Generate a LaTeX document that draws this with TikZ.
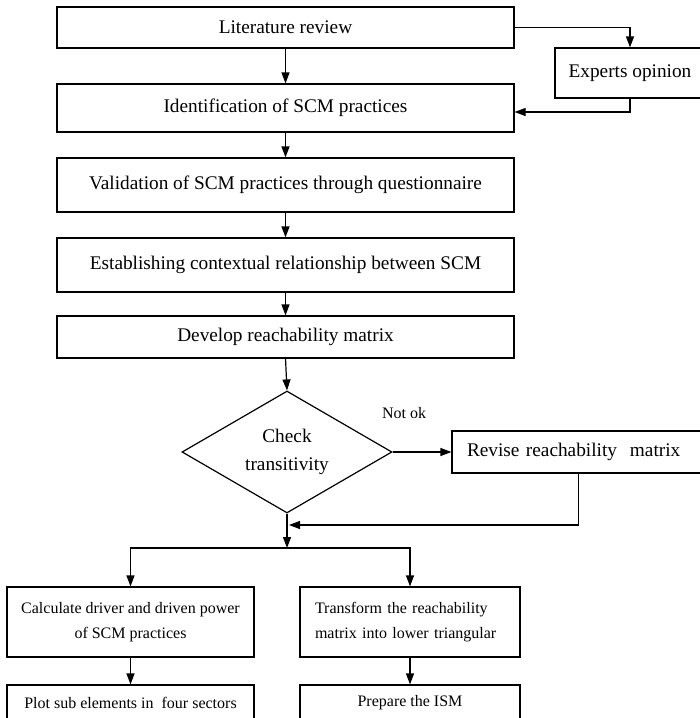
\documentclass[tikz,border=0pt]{standalone}
\usepackage{fontspec}
\setmainfont{Liberation Serif}
\usetikzlibrary{arrows.meta,shapes.geometric}
\begin{document}
\begin{tikzpicture}[x=1pt,y=-1pt,
  line width=1.2pt,
  arr/.style={-{Triangle[length=11pt,width=8pt]}},
  bigfont/.style={font=\fontsize{19.3}{23}\selectfont},
  bigbox/.style={draw,minimum width=457pt,inner sep=0pt,bigfont},
  smallbox/.style={draw,inner sep=0pt,font=\fontsize{16}{25}\selectfont},
]
\useasboundingbox (0,0) rectangle (700,718);
\clip (0,0) rectangle (700,718);
\node[bigbox,minimum height=41pt] (b1) at (285.5,27.5) {Literature review};
\node[bigbox,minimum height=48pt] (b2) at (285.5,108) {Identification of SCM practices};
\node[bigbox,minimum height=54pt] (b3) at (285.5,185) {Validation of SCM practices through questionnaire};
\node[bigbox,minimum height=54pt] (b4) at (285.5,265) {Establishing contextual relationship between SCM};
\node[bigbox,minimum height=42pt] (b5) at (285.5,337) {Develop reachability matrix};
\node[draw,minimum width=150pt,minimum height=50pt,inner sep=0pt,bigfont] (exp) at (630,73) {Experts opinion};
\node[draw,diamond,aspect=1.72,minimum width=210pt,minimum height=122pt,inner sep=0pt,align=center,font=\fontsize{19.3}{28}\selectfont] (dia) at (287,452) {Check\\transitivity};
\node[draw,minimum width=253pt,minimum height=42pt,inner xsep=15pt,inner ysep=0pt,text width=223pt,align=left,bigfont] (rev) at (578.5,452) {Revise reachability\ \ matrix};
\node[font=\fontsize{16}{20}\selectfont,inner sep=0pt] (nok) at (404,413) {Not ok};
\node[smallbox,minimum width=247pt,minimum height=70pt,align=center] (b6) at (130.5,622) {Calculate driver and driven power\\of SCM practices};
\node[smallbox,minimum width=220pt,minimum height=70pt,inner xsep=15pt,text width=190pt,align=left] (b7) at (410,622) {Transform the reachability\\matrix into lower triangular};
\node[smallbox,minimum width=247pt,minimum height=36pt] (b8) at (130.5,703) {Plot sub elements in\ \ four sectors};
\node[smallbox,minimum width=220pt,minimum height=36pt] (b9) at (410,703) {Prepare the ISM};
\coordinate (j) at (287,548);
\coordinate (m) at (289,525);
\draw[arr] (b1) -- (b2);
\draw[arr] (b1.east) -| (exp.north);
\draw[arr] (exp.south) |- ([yshift=-4pt]b2.east);
\draw[arr] (b2) -- (b3);
\draw[arr] (b3) -- (b4);
\draw[arr] (b4) -- (b5);
\draw[arr] (b5.south) -- (dia.north);
\draw[arr] (dia.east) -- (rev.west);
\draw[arr] (rev.south) |- (m);
\draw[arr] (dia.south) -- (j);
\draw[arr] (j) -| (b6.north);
\draw[arr] (j) -| (b7.north);
\draw[arr] (b6) -- (b8);
\draw[arr] (b7) -- (b9);
\end{tikzpicture}
\end{document}
